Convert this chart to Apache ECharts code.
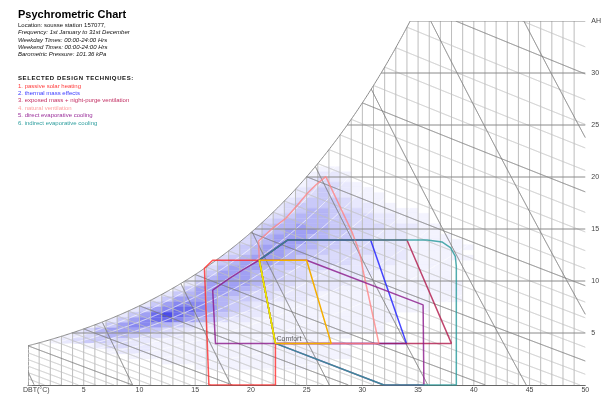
<!DOCTYPE html>
<html>
<head>
<meta charset="utf-8">
<script src="https://cdn.jsdelivr.net/npm/echarts/dist/echarts.min.js"></script>
<style>
html,body{margin:0;padding:0;background:#fff;}
#chart{width:604px;height:394px;}
</style>
</head>
<body>
<div id="chart"></div>
<script>
// ---- site / header info ----
const titleText = 'Psychrometric Chart';
const infoLines = [
  'Location: sousse station 157077,',
  'Frequency: 1st January to 31st December',
  'Weekday Times: 00:00-24:00 Hrs',
  'Weekend Times: 00:00-24:00 Hrs',
  'Barometric Pressure: 101.36 kPa'
];
const techniquesHeading = 'SELECTED DESIGN TECHNIQUES:';
const techniques = [
  '1. passive solar heating',
  '2. thermal mass effects',
  '3. exposed mass + night-purge ventilation',
  '4. natural ventilation',
  '5. direct evaporative cooling',
  '6. indirect evaporative cooling'
];

// ---- axes ----
const PRESSURE = 101.36;          // kPa
const dbtRange = [0, 50];         // dry bulb (°C)
const ahRange = [0, 35];          // absolute humidity (g/kg)
const axisStep = 5;

// ---- climate frequency cells: [row (0.5 g/kg bands), first DBT column, levels per 1°C] ----
const freqRows = [
  [41, 26, '11'],
  [40, 25, '1221'],
  [39, 24, '12321'],
  [38, 24, '123321'],
  [37, 23, '12343211'],
  [36, 23, '123432111'],
  [35, 22, '1234443211'],
  [34, 22, '23444432211'],
  [33, 21, '12345543321111'],
  [32, 21, '234555443322111'],
  [31, 20, '2345555443322111'],
  [30, 20, '34556554433322211'],
  [29, 19, '234566654433222111'],
  [28, 19, '3456665544332221111'],
  [27, 18, '234566654433322211111'],
  [26, 18, '3456665544333222111111'],
  [25, 17, '2345665544333322211111'],
  [24, 17, '34566654433332222111111'],
  [23, 16, '2456665443333222211111'],
  [22, 16, '3566654433322222111111'],
  [21, 15, '24666544332222221111111'],
  [20, 14, '135666544332222211111111'],
  [19, 14, '2466665433222221111111111'],
  [18, 13, '24666654332222211111111111'],
  [17, 12, '245666543322221111111111111'],
  [16, 11, '2466665443322211111111111111'],
  [15, 10, '24677765432211111111111111'],
  [14, 9,  '246788765432211111111111111'],
  [13, 8,  '2468987654322111111111111'],
  [12, 7,  '24678876543221111111111111'],
  [11, 6,  '24677654322111111111111111'],
  [10, 4,  '2356665432211111111111111111'],
  [9,  3,  '12345543322111111111111111'],
  [8,  2,  '1234433221111111111111111'],
  [7,  5,  '12332211111111111111111'],
  [6,  7,  '1222111111111111111111'],
  [5,  9,  '11111111111111111111'],
  [4,  12, '111111111111111'],
  [3,  15, '11111111111']
];

// ---- design zones, [DBT °C, AH g/kg] ----
const comfortZone = [[20.75, 12], [25.0, 12], [27.2, 4], [22.2, 4]];
const passiveSolarZone = [[16.23, 0], [15.83, 11.22], [16.57, 12], [20.75, 12], [22.2, 4], [22.2, 0]];
const thermalMassZone = [[20.75, 12], [23.28, 13.94], [30.74, 13.94], [33.96, 4], [22.2, 4]];
const nightPurgeZone = [[20.75, 12], [23.28, 13.94], [34.0, 13.94], [37.99, 4], [22.2, 4]];
const naturalVentZone = [[20.75, 12], [20.69, 13.85], [21.94, 15.07], [23.14, 16.03], [24.18, 17.31],
  [25.07, 18.43], [25.82, 19.23], [26.72, 20.03], [29.07, 14.7], [29.6, 13.2], [29.87, 12.2],
  [30.05, 11.06], [31.48, 4.0], [22.2, 4]];
const directEvapZone = [[16.57, 9.13], [16.82, 4.0], [22.2, 4.0], [31.93, 0], [35.52, 0], [35.45, 7.7],
  [25.0, 12], [20.75, 12], [19.26, 11.06], [18.07, 10.26]];
const indirectEvapZone = [[20.75, 12], [23.28, 13.94], [35.8, 13.94], [37.14, 13.76], [37.9, 13.22],
  [38.34, 12.36], [38.43, 11.4], [38.43, 0], [31.93, 0], [22.2, 4]];

// ---- styles ----
const heatPalette = ['#ffffff', '#f3f3fe', '#e8e8fd', '#dadafb', '#c9c9f9', '#b5b5f6', '#a0a0f3', '#8888f0', '#6c6cec', '#4c4ce8'];
const zoneStyles = [
  {zone: passiveSolarZone, color: '#ff2a2a'},
  {zone: thermalMassZone, color: '#1a1aff'},
  {zone: nightPurgeZone, color: '#b0184a'},
  {zone: naturalVentZone, color: '#ff8484'},
  {zone: directEvapZone, color: '#8a168a'},
  {zone: indirectEvapZone, color: '#24999a'}
];
const legendColors = ['#ff3b3b', '#3b3bff', '#c22e62', '#ffa0a0', '#9a2e9a', '#2e9e9e'];

// ---- psychrometric relations ----
const satPress = t => 0.61094 * Math.exp(17.625 * t / (t + 243.04));               // kPa
const satAH = t => 621.945 * satPress(t) / (PRESSURE - satPress(t));                // g/kg
function satTemp(w) {                        // DBT where the saturation curve reaches w
  let lo = -20, hi = 60;
  for (let i = 0; i < 60; i++) { const m = (lo + hi) / 2; if (satAH(m) < w) lo = m; else hi = m; }
  return (lo + hi) / 2;
}
const wetBulbAH = (twb, t) => {
  const wsw = satAH(twb) / 1000;
  return 1000 * ((2501 - 2.326 * twb) * wsw - 1.006 * (t - twb)) / (2501 + 1.86 * t - 4.186 * twb);
};
const volumeAH = (v, t) => 1000 * (v * PRESSURE / (0.287 * (t + 273.15)) - 1) / 1.6078;
const rhAH = (rh, t) => 621.945 * rh * satPress(t) / (PRESSURE - rh * satPress(t));

function insideChart(t, w) {
  return t >= dbtRange[0] - 1e-9 && t <= dbtRange[1] + 1e-9 && w >= -1e-9 &&
         w <= ahRange[1] + 1e-9 && w <= satAH(t) + 1e-9;
}
function traceCurve(f, t0, t1) {
  const pts = [];
  const n = Math.max(2, Math.ceil((t1 - t0) / 0.02));
  for (let i = 0; i <= n; i++) {
    const t = t0 + (t1 - t0) * i / n;
    const w = f(t);
    if (insideChart(t, w)) pts.push([t, w]);
  }
  return pts;
}

// chart furniture lines
const tTop = satTemp(ahRange[1]);
const saturationLine = [];
for (let t = dbtRange[0]; t < tTop; t += 0.1) saturationLine.push([t, satAH(t)]);
saturationLine.push([tTop, ahRange[1]]);

const dbtLines = [];
for (let t = dbtRange[0]; t < dbtRange[1]; t += 1) dbtLines.push([[t, 0], [t, Math.min(satAH(t), ahRange[1])]]);

const ahLines = [];
for (let w = axisStep; w <= ahRange[1]; w += axisStep) ahLines.push([[satTemp(w), w], [dbtRange[1], w]]);

const wbLight = [], wbDark = [];
for (let twb = -5; twb <= 36; twb++) {
  const pts = traceCurve(t => wetBulbAH(twb, t), Math.max(twb, 0), dbtRange[1]);
  if (pts.length > 1) (twb >= 0 && twb % 5 === 0 ? wbDark : wbLight).push(pts);
}
const volLines = [];
for (let v = 0.775; v < 0.96; v += 0.025) {
  const pts = traceCurve(t => volumeAH(v, t), dbtRange[0], dbtRange[1]);
  if (pts.length > 1) volLines.push(pts);
}
const rhLines = [];
for (let rh = 0.1; rh < 0.95; rh += 0.1) {
  const pts = traceCurve(t => rhAH(rh, t), dbtRange[0], dbtRange[1]);
  if (pts.length > 1) rhLines.push(pts);
}

// frequency cells
const freqCells = [];
freqRows.forEach(([row, t0, levels]) => {
  for (let i = 0; i < levels.length; i++) {
    const lv = +levels[i];
    if (lv > 0) freqCells.push([t0 + i, row * 0.5, lv]);
  }
});

function pathSeries(lines, color, width, z) {
  return {
    type: 'custom', coordinateSystem: 'cartesian2d', silent: true, z: z, clip: true,
    data: lines.map((_, i) => [i]),
    renderItem: (params, api) => ({
      type: 'polyline',
      shape: {points: lines[params.dataIndex].map(p => api.coord(p))},
      style: {stroke: color, lineWidth: width, fill: null}
    })
  };
}

const series = [];
// frequency shading
series.push({
  type: 'custom', coordinateSystem: 'cartesian2d', silent: true, z: 1, clip: true,
  data: freqCells, encode: {x: 0, y: 1},
  renderItem: (params, api) => {
    const t = api.value(0), w = api.value(1), lv = api.value(2);
    const a = api.coord([t, w + 0.5]), b = api.coord([t + 1, w]);
    return {type: 'rect', shape: {x: a[0], y: a[1], width: b[0] - a[0], height: b[1] - a[1]},
            style: {fill: heatPalette[lv], stroke: heatPalette[lv], lineWidth: 0.4}};
  }
});
// blank out everything above the saturation curve
series.push({
  type: 'custom', coordinateSystem: 'cartesian2d', silent: true, z: 2, clip: true,
  data: [[0]],
  renderItem: (params, api) => ({
    type: 'polygon',
    shape: {points: saturationLine.concat([[tTop, ahRange[1] + 1], [dbtRange[0] - 1, ahRange[1] + 1], [dbtRange[0] - 1, saturationLine[0][1]]]).map(p => api.coord(p))},
    style: {fill: '#ffffff'}
  })
});
series.push(pathSeries(rhLines, 'rgba(255,255,255,0.8)', 1, 3));
series.push(pathSeries(dbtLines, '#bdbdbd', 1, 4));
series.push(pathSeries(wbLight, '#c4c4c4', 1, 4));
series.push(pathSeries(volLines, '#777777', 1, 5));
series.push(pathSeries(wbDark, '#777777', 1, 5));
series.push(pathSeries(ahLines, '#8a8a8a', 1, 5));
series.push(pathSeries([saturationLine], '#8a8a8a', 1, 5));

// design technique zones
zoneStyles.forEach((zs, i) => {
  series.push({
    type: 'line', z: 6 + i, silent: true, symbol: 'none',
    data: zs.zone.concat([zs.zone[0]]),
    lineStyle: {color: zs.color, width: 1.5, opacity: 0.8}
  });
});
// comfort zone
series.push({
  type: 'line', z: 13, silent: true, symbol: 'none',
  data: comfortZone.concat([comfortZone[0]]),
  lineStyle: {color: '#f4ae00', width: 1.5}
});
series.push({
  type: 'line', z: 14, silent: true, symbol: 'none',
  data: [comfortZone[3], comfortZone[0]],
  lineStyle: {color: '#eaea00', width: 1.5}
});
series.push({
  type: 'scatter', z: 15, silent: true, symbolSize: 0,
  data: [comfortZone[3]],
  label: {show: true, formatter: 'Comfort', position: [1, -8], align: 'left', verticalAlign: 'top',
          fontSize: 7, color: '#333', fontFamily: 'Liberation Sans'}
});

// header texts
const sans = '"Liberation Sans", Arial, sans-serif';
const graphics = [];
graphics.push({type: 'text', z: 100, x: 18, y: 15, style: {text: titleText, font: 'bold 11px ' + sans, fill: '#000', verticalAlign: 'middle'}});
const infoY = [25.5, 32.8, 40.2, 47.5, 54.8];
infoLines.forEach((s, i) => graphics.push({type: 'text', z: 100, x: 18, y: infoY[i],
  style: {text: s, font: (i === 0 ? '' : 'italic ') + '6px ' + sans, fill: '#111', verticalAlign: 'middle'}}));

// letter-spaced heading, placed character by character
const headingFont = 'bold 6px ' + sans;
const measureCtx = document.createElement('canvas').getContext('2d');
measureCtx.font = headingFont;
let hx = 18;
for (const ch of techniquesHeading) {
  graphics.push({type: 'text', z: 100, x: hx, y: 78, style: {text: ch, font: headingFont, fill: '#111', verticalAlign: 'middle'}});
  hx += measureCtx.measureText(ch).width + 0.6;
}

const techY = [86.3, 93.5, 100.8, 108.0, 115.5, 123.0];
techniques.forEach((s, i) => graphics.push({type: 'text', z: 100, x: 18, y: techY[i],
  style: {text: s, font: '6px ' + sans, fill: legendColors[i], verticalAlign: 'middle'}}));
graphics.push({type: 'text', z: 100, x: 23, y: 390, style: {text: 'DBT(°C)', font: '7px ' + sans, fill: '#444', verticalAlign: 'middle'}});

const chart = echarts.init(document.getElementById('chart'), null, {renderer: 'canvas'});
chart.setOption({
  animation: false,
  backgroundColor: '#ffffff',
  grid: {left: 28, right: 17, top: 21, bottom: 9, show: false},
  xAxis: {
    type: 'value', min: dbtRange[0], max: dbtRange[1], interval: axisStep,
    axisLine: {show: true, onZero: false, lineStyle: {color: '#666', width: 1}},
    axisTick: {show: false}, splitLine: {show: false},
    axisLabel: {fontSize: 7, color: '#444', margin: 2, fontFamily: 'Liberation Sans',
                formatter: v => (v === 0 ? '' : String(v))}
  },
  yAxis: {
    type: 'value', position: 'right', min: ahRange[0], max: ahRange[1], interval: axisStep,
    axisLine: {show: true, lineStyle: {color: '#888', width: 1}},
    axisTick: {show: true, length: 4, lineStyle: {color: '#888'}},
    splitLine: {show: false},
    axisLabel: {fontSize: 7, color: '#444', margin: 6, fontFamily: 'Liberation Sans', showMaxLabel: true,
                formatter: v => (v === ahRange[1] ? 'AH' : (v === 0 ? '' : String(v)))}
  },
  graphic: {elements: graphics},
  series: series
});
</script>
</body>
</html>
